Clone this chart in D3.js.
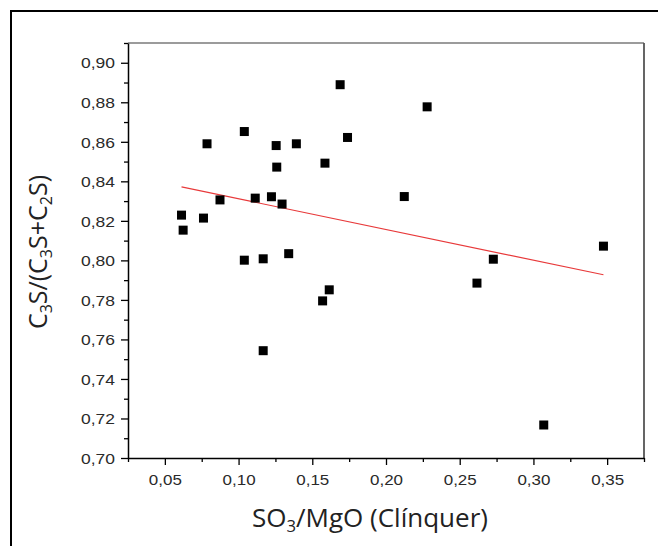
<!DOCTYPE html>
<html><head><meta charset="utf-8">
<script src="https://cdn.jsdelivr.net/npm/d3@7"></script>
<style>body{margin:0;background:#fff}svg{display:block}</style>
</head><body>
<svg id="chart" width="658" height="546"></svg>
<script>
// ---- data ----
const xValues = [0.0613,0.0624,0.0762,0.0786,0.0874,0.1039,0.1039,0.1113,0.1167,0.1167,0.1223,0.1255,0.1259,0.1295,0.1340,0.1392,0.1570,0.1586,0.1615,0.1689,0.1739,0.2124,0.2279,0.2617,0.2728,0.3070,0.3475];
const yValues = [0.8229,0.8153,0.8214,0.8590,0.8306,0.8652,0.8001,0.8315,0.8008,0.7543,0.8322,0.8581,0.8472,0.8285,0.8034,0.8590,0.7795,0.8492,0.7851,0.8889,0.8622,0.8323,0.8777,0.7885,0.8006,0.7167,0.8072];
const fitX = [0.0613, 0.3475];
const fitY = [0.8372, 0.7927];
const xTicks = [0.05,0.10,0.15,0.20,0.25,0.30,0.35];
const xMinorTicks = [0.025,0.075,0.125,0.175,0.225,0.275,0.325,0.375];
const yTicks = [0.70,0.72,0.74,0.76,0.78,0.80,0.82,0.84,0.86,0.88,0.90];
const yMinorTicks = [0.71,0.73,0.75,0.77,0.79,0.81,0.83,0.85,0.87,0.89,0.91];
const xDomain = [0.025, 0.375];
const yDomain = [0.70, 0.91];

const svg = d3.select("#chart");
const L = 128, R = 644, T = 43, B = 458;
const x = d3.scaleLinear().domain(xDomain).range([L, R]);
const y = d3.scaleLinear().domain(yDomain).range([B, T]);
const fmt = d => d3.format(".2f")(d).replace(".", ",");

// outer page frame
svg.append("line").attr("x1",10).attr("x2",658).attr("y1",11).attr("y2",11).attr("stroke","#000").attr("stroke-width",2);
svg.append("line").attr("x1",11).attr("x2",11).attr("y1",10).attr("y2",546).attr("stroke","#000").attr("stroke-width",2);

// plot frame (top/right)
svg.append("line").attr("x1",L).attr("x2",R).attr("y1",T).attr("y2",T).attr("stroke","#7a7a7a").attr("stroke-width",1.5);
svg.append("line").attr("x1",R).attr("x2",R).attr("y1",T).attr("y2",B).attr("stroke","#555").attr("stroke-width",1.8);

// axes
const xAxis = svg.append("g").attr("transform",`translate(0,${B})`)
  .call(d3.axisBottom(x).tickValues(xTicks).tickFormat(fmt).tickSize(7).tickSizeOuter(0));
svg.append("g").attr("transform",`translate(0,${B})`)
  .call(d3.axisBottom(x).tickValues(xMinorTicks).tickFormat("").tickSize(4).tickSizeOuter(0))
  .select(".domain").remove();
const yAxis = svg.append("g").attr("transform",`translate(${L},0)`)
  .call(d3.axisLeft(y).tickValues(yTicks).tickFormat(fmt).tickSize(7).tickSizeOuter(0));
svg.append("g").attr("transform",`translate(${L},0)`)
  .call(d3.axisLeft(y).tickValues(yMinorTicks).tickFormat("").tickSize(4).tickSizeOuter(0))
  .select(".domain").remove();

svg.selectAll(".domain").attr("stroke","#000").attr("stroke-width",1.5);
svg.selectAll(".tick line").attr("stroke","#000").attr("stroke-width",1.3);
const tickFont = "'Liberation Sans', Arial, sans-serif";
xAxis.selectAll(".tick text").attr("y",27).attr("dy",0)
  .attr("font-family",tickFont).attr("font-size",14.5).attr("fill","#2a2a2a")
  .attr("textLength",33).attr("lengthAdjust","spacingAndGlyphs");
yAxis.selectAll(".tick text").attr("x",-13).attr("dy","0.36em")
  .attr("font-family",tickFont).attr("font-size",14.5).attr("fill","#2a2a2a")
  .attr("textLength",34).attr("lengthAdjust","spacingAndGlyphs");

// fit line
svg.append("line")
  .attr("x1",x(fitX[0])).attr("y1",y(fitY[0]))
  .attr("x2",x(fitX[1])).attr("y2",y(fitY[1]))
  .attr("stroke","#e8393a").attr("stroke-width",1.1);

// points
const pts = xValues.map((v,i)=>({x:v,y:yValues[i]}));
const s = 9;
svg.append("g").selectAll("rect").data(pts).join("rect")
  .attr("x",d=>x(d.x)-s/2).attr("y",d=>y(d.y)-s/2)
  .attr("width",s).attr("height",s).attr("fill","#000");

// axis titles
const titleFont = "'Open Sans', Lato, sans-serif";
const xt = svg.append("text").attr("x",370).attr("y",527).attr("text-anchor","middle")
  .attr("font-family",titleFont).attr("font-size",25).attr("fill","#222")
  .attr("textLength",236).attr("lengthAdjust","spacingAndGlyphs");
xt.append("tspan").text("SO");
xt.append("tspan").attr("font-size",16).attr("dy",5).text("3");
xt.append("tspan").attr("dy",-5).text("/MgO (Clínquer)");

const yt = svg.append("text").attr("transform","translate(47,252) rotate(-90)").attr("text-anchor","middle")
  .attr("font-family",titleFont).attr("font-size",25).attr("fill","#222");
yt.append("tspan").text("C");
yt.append("tspan").attr("font-size",16).attr("dy",5).text("3");
yt.append("tspan").attr("dy",-5).text("S/(C");
yt.append("tspan").attr("font-size",16).attr("dy",5).text("3");
yt.append("tspan").attr("dy",-5).text("S+C");
yt.append("tspan").attr("font-size",16).attr("dy",5).text("2");
yt.append("tspan").attr("dy",-5).text("S)");
</script>
</body></html>
